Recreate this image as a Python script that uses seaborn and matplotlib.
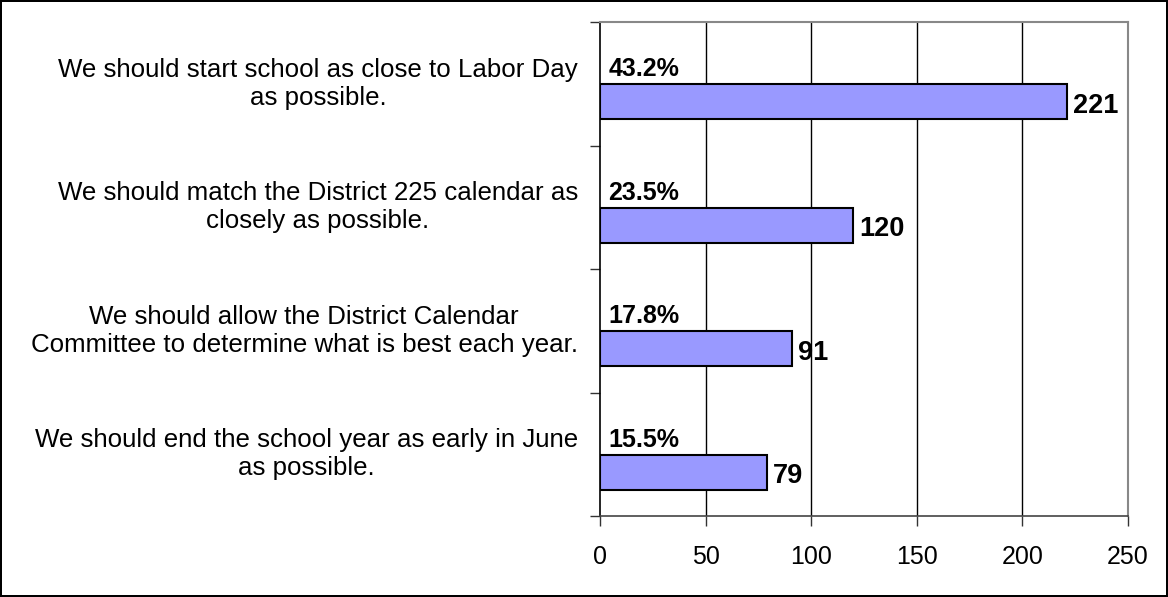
import matplotlib
matplotlib.use("Agg")
import matplotlib.pyplot as plt
import seaborn as sns
import pandas as pd
import numpy as np

categories = [
    "We should start school as close to Labor Day\nas possible.",
    "We should match the District 225 calendar as\nclosely as possible.",
    "We should allow the District Calendar\nCommittee to determine what is best each year.",
    "We should end the school year as early in June\nas possible.",
]
counts = [221, 120, 91, 79]
percents = [43.2, 23.5, 17.8, 15.5]
xticks = [0, 50, 100, 150, 200, 250]

sns.set_theme(style="white")
plt.rcParams["font.family"] = ["Liberation Sans", "DejaVu Sans"]
plt.rcParams["text.color"] = "black"
plt.rcParams["xtick.color"] = "black"
plt.rcParams["ytick.color"] = "black"

df = pd.DataFrame({"cat": categories, "count": counts})

fig = plt.figure(figsize=(11.68, 5.97), dpi=100)
fig.patch.set_edgecolor("black")
fig.patch.set_linewidth(1.5)
ax = fig.add_axes([600 / 1168, 1 - 516 / 597, 528 / 1168, 494 / 597])

sns.barplot(data=df, y="cat", x="count", orient="h", color="#9999FF",
            saturation=1, width=0.283, edgecolor="black", linewidth=1.5, ax=ax)

off = 0.145
n = len(categories)
ax.set_ylim(n - 0.5 - off, -0.5 - off)
ax.set_xlim(0, 250)

ax.set_yticks([i - off - 0.035 for i in range(n)])
ax.set_yticklabels(categories, fontsize=18.6, ha="right", multialignment="center",
                   color="black")
ax.tick_params(axis="y", which="major", length=0, pad=16)
ax.set_yticks([i - 0.5 - off for i in range(n + 1)], minor=True)
ax.tick_params(axis="y", which="minor", length=7, width=1, color="#333333",
               direction="out", left=True)

ax.set_xticks(xticks)
ax.set_xticklabels([str(t) for t in xticks], fontsize=18, color="black")
ax.tick_params(axis="x", which="major", length=7, width=1, color="#333333",
               direction="out", bottom=True, pad=14)

ax.set_xlabel("")
ax.set_ylabel("")

for t in xticks[1:-1]:
    ax.axvline(t, color="black", lw=1, zorder=0)

for s in ["top", "right"]:
    ax.spines[s].set_color("#888888")
    ax.spines[s].set_linewidth(1.5)
ax.spines["left"].set_color("black")
ax.spines["bottom"].set_color("#444444")
for s in ["left", "bottom"]:
    ax.spines[s].set_linewidth(1.2)

for i, (c, p) in enumerate(zip(counts, percents)):
    ax.text(4, i - 0.205, f"{p}%", fontsize=18, fontweight="bold",
            ha="left", va="baseline", color="black")
    ax.text(c + 2.8, i + 0.033, f"{c}", fontsize=19.5, fontweight="bold",
            ha="left", va="center", color="black")

fig.savefig("out.png", dpi=100)
